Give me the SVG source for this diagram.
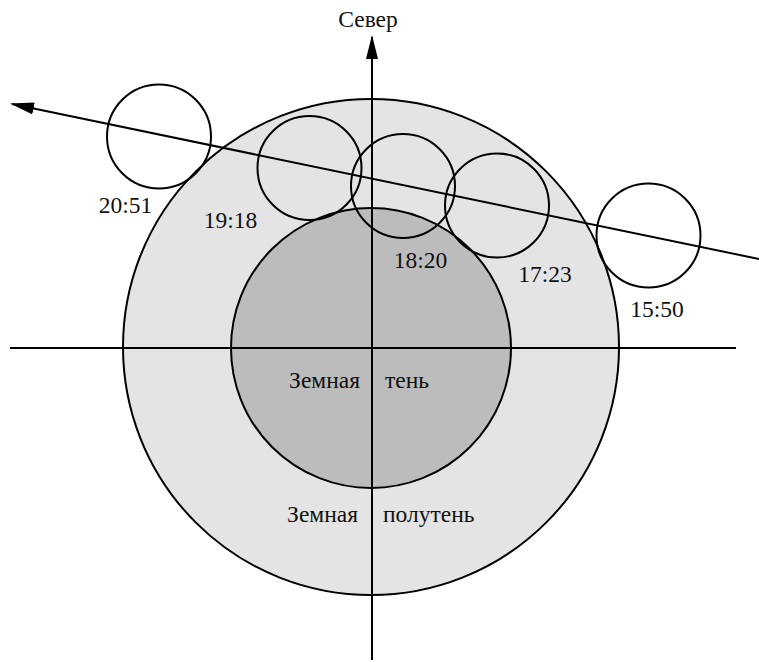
<svg xmlns="http://www.w3.org/2000/svg" width="759" height="662" viewBox="0 0 759 662">
<style>
.ln{stroke:#000;stroke-width:2;fill:none}
.moon{stroke:#000;stroke-width:2;fill:none}
text{font-family:"Liberation Serif","Times New Roman",serif;font-size:23.5px;fill:#111}
</style>
<defs>
<marker id="ah" markerUnits="userSpaceOnUse" markerWidth="24" markerHeight="12" viewBox="0 0 24 12" refX="22" refY="6" orient="auto">
<path d="M0,0 L24,6 L0,12 Z" fill="#000"/>
</marker>
</defs>
<g id="penumbra"><circle cx="371" cy="347" r="248" fill="#e4e4e4" stroke="#000" stroke-width="2"/></g>
<g id="umbra"><circle cx="371" cy="348" r="140" fill="#bcbcbc" stroke="#000" stroke-width="2"/></g>
<g id="connectors">
<line class="ln" x1="10" y1="348" x2="736" y2="348"/>
<line class="ln" x1="372" y1="660" x2="372" y2="37" marker-end="url(#ah)"/>
<line class="ln" x1="759" y1="259" x2="12" y2="104" marker-end="url(#ah)"/>
</g>
<g id="moon-2051"><circle class="moon" cx="159" cy="136.5" r="52"/></g>
<g id="moon-1918"><circle class="moon" cx="309.5" cy="168" r="52"/></g>
<g id="moon-1820"><circle class="moon" cx="403" cy="186" r="52"/></g>
<g id="moon-1723"><circle class="moon" cx="497" cy="205.5" r="52"/></g>
<g id="moon-1550"><circle class="moon" cx="648.5" cy="235.5" r="52"/></g>
<g id="labels">
<text x="368" y="27" text-anchor="middle">Север</text>
<text x="125.5" y="213" text-anchor="middle">20:51</text>
<text x="230.5" y="228" text-anchor="middle">19:18</text>
<text x="420.5" y="268" text-anchor="middle">18:20</text>
<text x="545" y="282" text-anchor="middle">17:23</text>
<text x="657" y="317" text-anchor="middle">15:50</text>
<text x="360" y="388" text-anchor="end">Земная</text>
<text x="385" y="388">тень</text>
<text x="358" y="522" text-anchor="end">Земная</text>
<text x="383" y="522">полутень</text>
</g>
</svg>
